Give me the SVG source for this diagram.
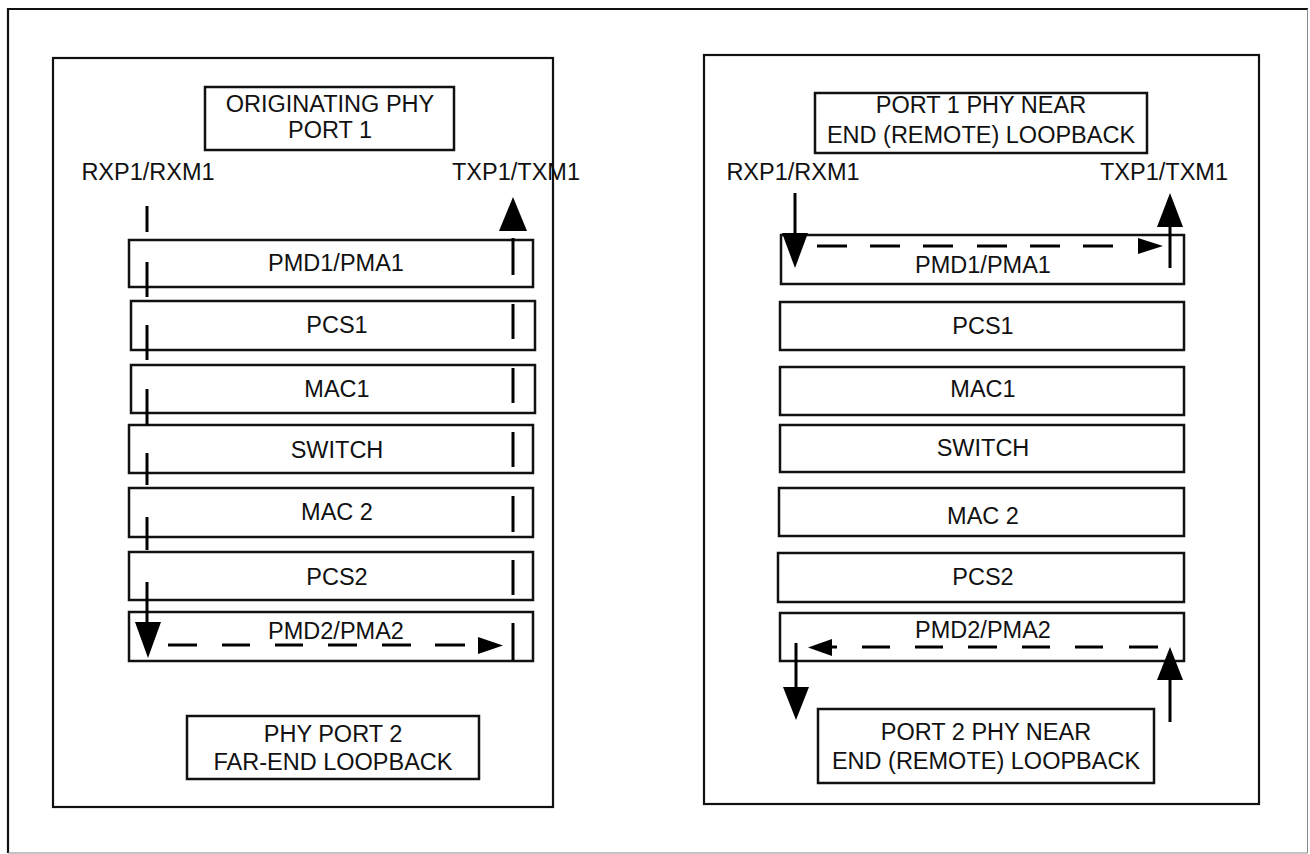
<svg xmlns="http://www.w3.org/2000/svg" width="1310" height="854" viewBox="0 0 1310 854">
<defs>
<style>
text{font-family:"Liberation Sans",Arial,sans-serif;font-size:23.5px;fill:#111;text-anchor:middle}
.box{fill:#fff;stroke:#111;stroke-width:2.5}
.panel{fill:#fff;stroke:#111;stroke-width:2.2}
.ln{stroke:#000;stroke-width:3;fill:none}
.ah{fill:#000;stroke:none}
</style>
</defs>
<rect width="1310" height="854" fill="#fff"/>
<g id="outer-border">
<path d="M8 853 V9 H1308" fill="none" stroke="#111" stroke-width="2.2"/>
<path d="M1307.5 9 V853 H8" fill="none" stroke="#888" stroke-width="1"/>
</g>
<g id="left-panel"><rect class="panel" x="53" y="58" width="500" height="749"/></g>
<g id="right-panel"><rect class="panel" x="704" y="55" width="555" height="749"/></g>

<g id="left-title"><rect class="box" x="205" y="87" width="249" height="63"/>
<text x="330" y="112">ORIGINATING PHY</text><text x="330" y="138">PORT 1</text></g>
<g id="left-rx-label"><text x="148" y="180">RXP1/RXM1</text></g>
<g id="left-tx-label"><text x="516" y="180">TXP1/TXM1</text></g>

<g id="l-pmd1"><rect class="box" x="129" y="240" width="404" height="47"/><text x="336" y="271">PMD1/PMA1</text></g>
<g id="l-pcs1"><rect class="box" x="131" y="301" width="404" height="49"/><text x="337" y="333">PCS1</text></g>
<g id="l-mac1"><rect class="box" x="131" y="365" width="404" height="48"/><text x="337" y="397">MAC1</text></g>
<g id="l-switch"><rect class="box" x="129" y="425" width="404" height="48"/><text x="337" y="458">SWITCH</text></g>
<g id="l-mac2"><rect class="box" x="129" y="488" width="404" height="49"/><text x="337" y="520">MAC 2</text></g>
<g id="l-pcs2"><rect class="box" x="129" y="552" width="404" height="48"/><text x="337" y="585">PCS2</text></g>
<g id="l-pmd2"><rect class="box" x="129" y="612" width="404" height="49"/><text x="336" y="639">PMD2/PMA2</text></g>

<g id="left-bottom-label"><rect class="box" x="187" y="716" width="292" height="63"/>
<text x="333" y="742">PHY PORT 2</text><text x="333" y="770">FAR-END LOOPBACK</text></g>

<g id="right-title"><rect class="box" x="815" y="93" width="332" height="60"/>
<text x="981" y="113">PORT 1 PHY NEAR</text><text x="981" y="143">END (REMOTE) LOOPBACK</text></g>
<g id="right-rx-label"><text x="793" y="180">RXP1/RXM1</text></g>
<g id="right-tx-label"><text x="1164" y="180">TXP1/TXM1</text></g>

<g id="r-pmd1"><rect class="box" x="781" y="235" width="403" height="49"/><text x="983" y="273">PMD1/PMA1</text></g>
<g id="r-pcs1"><rect class="box" x="780" y="302" width="404" height="48"/><text x="983" y="334">PCS1</text></g>
<g id="r-mac1"><rect class="box" x="780" y="367" width="404" height="48"/><text x="983" y="397">MAC1</text></g>
<g id="r-switch"><rect class="box" x="780" y="425" width="404" height="47"/><text x="983" y="456">SWITCH</text></g>
<g id="r-mac2"><rect class="box" x="779" y="488" width="405" height="48"/><text x="983" y="524">MAC 2</text></g>
<g id="r-pcs2"><rect class="box" x="778" y="553" width="406" height="49"/><text x="983" y="585">PCS2</text></g>
<g id="r-pmd2"><rect class="box" x="780" y="613" width="404" height="48"/><text x="983" y="638">PMD2/PMA2</text></g>

<g id="right-bottom-label"><rect class="box" x="818" y="709" width="336" height="74"/>
<text x="986" y="740">PORT 2 PHY NEAR</text><text x="986" y="769">END (REMOTE) LOOPBACK</text></g>

<g id="connectors">
<path class="ln" d="M147 206V232M147 262V297M147 325V360M147 389V425M147 453V485M147 517V550M147 582V622"/>
<polygon class="ah" points="135,622 161,622 148,658"/>
<path class="ln" d="M168 645H197M222 645H250M275 645H303M328 645H357M382 645H411M435 645H465"/>
<polygon class="ah" points="478,637 478,654 503,645.5"/>
<path class="ln" d="M513 238V275M513 304V339M513 368V403M513 432V467M513 496V532M513 560V595M513 623V660"/>
<polygon class="ah" points="499,231 527,231 513,197"/>

<path class="ln" d="M795 193V234"/>
<polygon class="ah" points="782,233 808,233 795,268"/>
<path class="ln" d="M817 246H847M870 246H900M923 246H953M977 246H1007M1030 246H1060M1083 246H1113"/>
<polygon class="ah" points="1138,238 1138,254 1163,246"/>
<path class="ln" d="M1170 268V226"/>
<polygon class="ah" points="1157,227 1183,227 1170,193"/>

<path class="ln" d="M1129 647H1158M1075 647H1103M1022 647H1050M968 647H997M915 647H943M862 647H890M830 647H837"/>
<polygon class="ah" points="832,639 832,656 808,647.5"/>
<path class="ln" d="M796 643V688"/>
<polygon class="ah" points="783,687 809,687 796,720"/>
<path class="ln" d="M1170 722V679"/>
<polygon class="ah" points="1157,680 1183,680 1170,647"/>
</g>
</svg>
